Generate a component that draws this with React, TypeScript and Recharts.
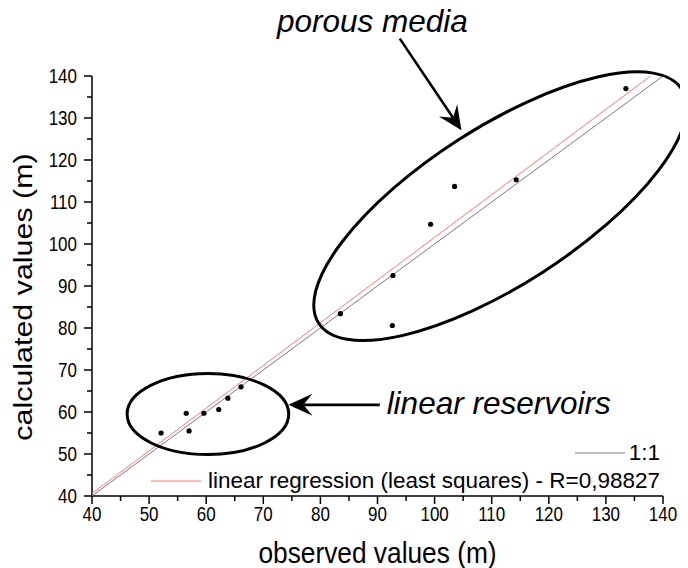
import React from 'react';
import {
  ScatterChart,
  Scatter,
  XAxis,
  YAxis,
  ReferenceDot,
  ReferenceLine,
  Legend,
} from 'recharts';

// ---------- data ----------
const OBSERVED = [52.1, 56.5, 57.0, 59.6, 62.2, 63.8, 66.1, 83.5, 92.6, 92.7, 99.3, 103.5, 114.3, 133.5];
const CALCULATED = [55.0, 59.7, 55.5, 59.7, 60.6, 63.3, 66.0, 83.4, 80.6, 92.5, 104.7, 113.7, 115.3, 137.0];

const ONE_TO_ONE_X = [40, 140];
const ONE_TO_ONE_Y = [40, 140];
const REGRESSION_X = [40, 137.8];
const REGRESSION_Y = [40.6, 140];

const AXIS_TICKS = [40, 45, 50, 55, 60, 65, 70, 75, 80, 85, 90, 95, 100, 105, 110, 115, 120, 125, 130, 135, 140];
const X_TITLE = 'observed values (m)';
const Y_TITLE = 'calculated values (m)';
const LEGEND_LABELS = ['1:1', 'linear regression (least squares) - R=0,98827'];
const ANNOTATION_LABELS = ['porous media', 'linear reservoirs'];

// annotation anchors (data coordinates)
const POROUS_CENTER = { x: 111.5, y: 109.0 };
const LINEAR_CENTER = { x: 60.3, y: 59.5 };
const POROUS_ARROW = [{ x: 93.9, y: 148.9 }, { x: 104.7, y: 127.1 }];
const LINEAR_ARROW = [{ x: 90.4, y: 61.7 }, { x: 74.4, y: 61.7 }];
const POROUS_TEXT = { x: 89.1, y: 150.5 };
const LINEAR_TEXT = { x: 91.6, y: 59.45 };

const points = OBSERVED.map((x, i) => ({ x, y: CALCULATED[i] }));
const oneToOne = ONE_TO_ONE_X.map((x, i) => ({ x, y: ONE_TO_ONE_Y[i] }));
const regression = REGRESSION_X.map((x, i) => ({ x, y: REGRESSION_Y[i] }));

// ---------- styles ----------
const FONT = '"Liberation Sans", Arial, Helvetica, sans-serif';
const GRAY = '#7a7a7a';
const RED = '#ff7878';

const EmptyShape = () => <g />;
const Dot = (p: any) => <circle cx={p.cx} cy={p.cy} r={2.6} fill="#000" />;

const XTick = (p: any) => {
  const { x, y, payload } = p;
  const v = payload.value;
  const major = v % 10 === 0;
  return (
    <g>
      <line x1={x} y1={y} x2={x} y2={y + (major ? 8 : 5)} stroke="#000" strokeWidth={1.5} />
      {major && (
        <text
          transform={`translate(${x},${y + 25}) scale(1,1.18)`}
          textAnchor="middle"
          fontFamily={FONT}
          fontSize={17}
          fill="#000"
        >
          {v}
        </text>
      )}
    </g>
  );
};

const YTick = (p: any) => {
  const { x, y, payload } = p;
  const v = payload.value;
  const major = v % 10 === 0;
  return (
    <g>
      <line x1={x} y1={y} x2={x - (major ? 8 : 5)} y2={y} stroke="#000" strokeWidth={1.5} />
      {major && (
        <text
          transform={`translate(${x - 15},${y + 7}) scale(1,1.18)`}
          textAnchor="end"
          fontFamily={FONT}
          fontSize={17}
          fill="#000"
        >
          {v}
        </text>
      )}
    </g>
  );
};

const XTitle = (p: any) => {
  const vb = p.viewBox || {};
  const cx = vb.x + vb.width / 2;
  const by = vb.y + 67;
  return (
    <text
      transform={`translate(${cx},${by}) scale(1,1.12)`}
      textAnchor="middle"
      fontFamily={FONT}
      fontSize={26.3}
      fill="#000"
    >
      {X_TITLE}
    </text>
  );
};

const YTitle = (p: any) => {
  const vb = p.viewBox || {};
  const bx = vb.x + 24;
  const cy = vb.y + vb.height / 2 + 11;
  return (
    <text
      transform={`translate(${bx},${cy}) rotate(-90) scale(1.17,1)`}
      textAnchor="middle"
      fontFamily={FONT}
      fontSize={26}
      fill="#000"
    >
      {Y_TITLE}
    </text>
  );
};

const Arrow = (p: any) => {
  const { x1, y1, x2, y2 } = p;
  const dx = x2 - x1;
  const dy = y2 - y1;
  const len = Math.sqrt(dx * dx + dy * dy) || 1;
  const ux = dx / len;
  const uy = dy / len;
  const nx = -uy;
  const ny = ux;
  const L = 24;
  const W = 11;
  const N = 15;
  const bx = x2 - ux * L;
  const by = y2 - uy * L;
  const head = [
    [x2, y2],
    [bx + nx * W, by + ny * W],
    [x2 - ux * N, y2 - uy * N],
    [bx - nx * W, by - ny * W],
  ]
    .map((q) => q.join(','))
    .join(' ');
  return (
    <g>
      <line x1={x1} y1={y1} x2={x2 - ux * N} y2={y2 - uy * N} stroke="#000" strokeWidth={2.6} />
      <polygon points={head} fill="#000" />
    </g>
  );
};

const PorousEllipse = (p: any) => (
  <ellipse
    cx={p.cx}
    cy={p.cy}
    rx={216}
    ry={78.5}
    transform={`rotate(-32.8 ${p.cx} ${p.cy})`}
    fill="none"
    stroke="#000"
    strokeWidth={3}
  />
);

const LinearEllipse = (p: any) => (
  <ellipse cx={p.cx} cy={p.cy} rx={80.8} ry={40.5} fill="none" stroke="#000" strokeWidth={3} />
);

const PorousText = (p: any) => (
  <text x={p.cx} y={p.cy} textAnchor="middle" fontFamily={FONT} fontStyle="italic" fontSize={31.5} fill="#000">
    {ANNOTATION_LABELS[0]}
  </text>
);

const LinearText = (p: any) => (
  <text x={p.cx} y={p.cy} textAnchor="start" fontFamily={FONT} fontStyle="italic" fontSize={31.5} fill="#000">
    {ANNOTATION_LABELS[1]}
  </text>
);

const LegendContent = () => (
  <div
    style={{
      display: 'flex',
      flexDirection: 'column',
      alignItems: 'flex-end',
      fontFamily: FONT,
      fontSize: 22.5,
      lineHeight: '28.3px',
      color: '#000',
      whiteSpace: 'nowrap',
    }}
  >
    <div style={{ display: 'flex', alignItems: 'center' }}>
      <svg width={50} height={4} style={{ display: 'block' }}>
        <line x1={0} y1={2} x2={50} y2={2} stroke={GRAY} strokeWidth={1} />
      </svg>
      <span style={{ marginLeft: 4 }}>{LEGEND_LABELS[0]}</span>
    </div>
    <div style={{ display: 'flex', alignItems: 'center' }}>
      <svg width={50} height={4} style={{ display: 'block' }}>
        <line x1={0} y1={2} x2={50} y2={2} stroke={RED} strokeWidth={1} />
      </svg>
      <span style={{ marginLeft: 7 }}>{LEGEND_LABELS[1]}</span>
    </div>
  </div>
);

export default function App() {
  return (
    <div style={{ width: 680, height: 560, fontFamily: FONT }}>
      <style>{`.recharts-surface{overflow:visible}`}</style>
      <ScatterChart width={680} height={560} margin={{ top: 68, right: 25, bottom: 0, left: 0 }}>
        <XAxis
          type="number"
          dataKey="x"
          domain={[40, 140]}
          ticks={AXIS_TICKS}
          interval={0}
          tickSize={0}
          tickMargin={0}
          tickLine={false}
          tick={XTick}
          axisLine={{ stroke: '#000', strokeWidth: 1.5 }}
          height={72}
          allowDataOverflow
          label={XTitle}
        />
        <YAxis
          type="number"
          dataKey="y"
          domain={[40, 140]}
          ticks={AXIS_TICKS}
          interval={0}
          tickSize={0}
          tickMargin={0}
          tickLine={false}
          tick={YTick}
          axisLine={{ stroke: '#000', strokeWidth: 1.5 }}
          width={84}
          allowDataOverflow
          label={YTitle}
        />
        <Scatter
          name={LEGEND_LABELS[0]}
          data={oneToOne}
          line={{ stroke: GRAY, strokeWidth: 1 }}
          shape={EmptyShape}
          isAnimationActive={false}
        />
        <Scatter
          name={LEGEND_LABELS[1]}
          data={regression}
          line={{ stroke: RED, strokeWidth: 1 }}
          shape={EmptyShape}
          isAnimationActive={false}
        />
        <Scatter name="data" data={points} shape={Dot} isAnimationActive={false} />
        <ReferenceDot x={POROUS_CENTER.x} y={POROUS_CENTER.y} ifOverflow="visible" shape={PorousEllipse} />
        <ReferenceDot x={LINEAR_CENTER.x} y={LINEAR_CENTER.y} ifOverflow="visible" shape={LinearEllipse} />
        <ReferenceLine segment={POROUS_ARROW} ifOverflow="visible" shape={Arrow} />
        <ReferenceLine segment={LINEAR_ARROW} ifOverflow="visible" shape={Arrow} />
        <ReferenceDot x={POROUS_TEXT.x} y={POROUS_TEXT.y} ifOverflow="visible" shape={PorousText} />
        <ReferenceDot x={LINEAR_TEXT.x} y={LINEAR_TEXT.y} ifOverflow="visible" shape={LinearText} />
        <Legend
          layout="horizontal"
          verticalAlign="middle"
          align="center"
          content={LegendContent}
          wrapperStyle={{ top: 430.5, right: 28, left: 'auto', bottom: 'auto', width: 'auto', height: 'auto' }}
        />
      </ScatterChart>
    </div>
  );
}
